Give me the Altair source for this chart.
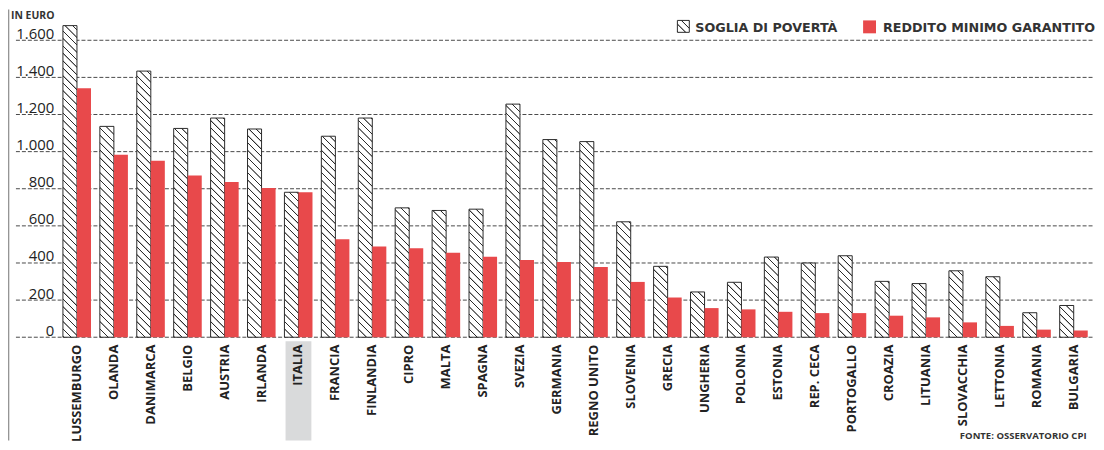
import altair as alt
import pandas as pd

# ---------------- data ----------------
countries = ["LUSSEMBURGO", "OLANDA", "DANIMARCA", "BELGIO", "AUSTRIA", "IRLANDA",
             "ITALIA", "FRANCIA", "FINLANDIA", "CIPRO", "MALTA", "SPAGNA", "SVEZIA",
             "GERMANIA", "REGNO UNITO", "SLOVENIA", "GRECIA", "UNGHERIA", "POLONIA",
             "ESTONIA", "REP. CECA", "PORTOGALLO", "CROAZIA", "LITUANIA", "SLOVACCHIA",
             "LETTONIA", "ROMANIA", "BULGARIA"]
soglia_poverta = [1679, 1136, 1434, 1125, 1181, 1122, 781, 1083, 1181, 697, 683, 690, 1256,
                  1065, 1054, 622, 382, 244, 296, 432, 400, 439, 301, 289, 358, 326, 132, 171]
reddito_minimo = [1341, 983, 951, 872, 836, 804, 781, 528, 489, 480, 455, 433, 416,
                  405, 378, 298, 214, 157, 150, 137, 130, 130, 116, 107, 80, 61, 41, 36]
series = ["SOGLIA DI POVERTÀ", "REDDITO MINIMO GARANTITO"]
y_ticks = [0, 200, 400, 600, 800, 1000, 1200, 1400, 1600]
highlight = ["ITALIA"]
unit_label = "IN EURO"
source_label = "FONTE: OSSERVATORIO CPI"

# ---------------- style / layout ----------------
RED = "#e8494b"
DARK = "#2b2b2b"
FONT = "Open Sans"
LEG_FONT = "DejaVu Sans"
W, H = 1042.5, 299
YMAX = 1600
PAD_IN, PAD_OUT = 0.24, 0.143
LEFT, TOP, RIGHT, BOTTOM = 50, 31, 3, 104

n = len(countries)
step = W / (n - PAD_IN + 2 * PAD_OUT)
bw = step * (1 - PAD_IN) / 2          # pixel width of one bar
ky = H / YMAX                          # pixels per euro
L = 340.0                              # gradient length in px (covers w+h of the tallest bar)
P = 7.5                                # hatch period in px


def hatch_stops(length):
    out = []
    k = 0
    while k * P + 1.8 <= length:
        a = k * P
        out += [(a, "#ffffff"), (a + 0.6, DARK), (a + 1.2, DARK), (a + 1.8, "#ffffff")]
        k += 1
    return [{"offset": round(o / length, 5), "color": c} for o, c in out]


stops = hatch_stops(L)
stops_js = ",".join("{offset:%s,color:'%s'}" % (s["offset"], s["color"]) for s in stops)

h_js = "(datum.valore*%r)" % ky
den_js = "(%r*%r+%s*%s)" % (bw, bw, h_js, h_js)
fill_expr = (
    "datum.serie === '%s' ? '%s' : {gradient:'linear', x1:0, y1:1, "
    "x2: %r*%r/%s, y2: 1 - %r*%s/%s, stops:[%s]}"
    % (series[1], RED, L, bw, den_js, L, h_js, den_js, stops_js)
)
stroke_expr = "datum.serie === '%s' ? null : '%s'" % (series[1], DARK)

rows = []
for c, a, b in zip(countries, soglia_poverta, reddito_minimo):
    rows.append({"paese": c, "serie": series[0], "valore": a})
    rows.append({"paese": c, "serie": series[1], "valore": b})
df = pd.DataFrame(rows)

x_scale = alt.Scale(paddingInner=PAD_IN, paddingOuter=PAD_OUT)
x_axis = alt.Axis(title=None, domain=False, ticks=False, labelAngle=270, labelAlign="right",
                  labelBaseline="middle", labelPadding=7, labelFont=FONT, labelFontSize=13,
                  labelFontWeight="bold", labelColor="#222222", labelOverlap=False, zindex=1,
                  grid=False)
y_scale = alt.Scale(domain=[0, YMAX], nice=False, zero=True)
y_axis = alt.Axis(title=None, domain=False, ticks=False, tickSize=0, grid=False, values=y_ticks,
                  labelExpr="replace(format(datum.value, ','), ',', '.')", labelPadding=4,
                  labelFont=FONT, labelFontSize=15, labelColor="#222222",
                  labelBaseline="alphabetic", labelOffset=-2, zindex=1)

one = pd.DataFrame({"k": [0]})

band = alt.Chart(pd.DataFrame({"paese": highlight})).mark_bar(color="#d9dadb", width=26).encode(
    x=alt.X("paese:N", sort=countries, scale=x_scale, axis=x_axis),
    y=alt.value(H + 4), y2=alt.value(H + BOTTOM),
)

grid = alt.Chart(pd.DataFrame({"valore": y_ticks})).mark_rule(
    color="#4a4a4a", strokeWidth=1, strokeDash=[4, 2]
).encode(
    y=alt.Y("valore:Q", scale=y_scale, axis=y_axis),
    x=alt.value(-42), x2=alt.value(W),
)

bars = alt.Chart(df).transform_calculate(
    fillv=fill_expr, strokev=stroke_expr
).mark_bar(strokeWidth=1).encode(
    x=alt.X("paese:N", sort=countries, scale=x_scale, axis=x_axis),
    xOffset=alt.XOffset("serie:N", sort=series, scale=alt.Scale(paddingInner=0, paddingOuter=0)),
    y=alt.Y("valore:Q", scale=y_scale, axis=y_axis),
    fill=alt.Fill("fillv:N", scale=None),
    stroke=alt.Stroke("strokev:N", scale=None),
)

frame = alt.Chart(one).mark_rule(color="#8a8a8a", strokeWidth=1.2).encode(
    x=alt.value(-LEFT + 0.7), y=alt.value(-TOP), y2=alt.value(H + BOTTOM))

title = alt.Chart(one).mark_text(text=unit_label, align="left", baseline="alphabetic", font=FONT,
                                 fontSize=10.5, fontWeight="bold", color="#333333").encode(
    x=alt.value(-47), y=alt.value(-21))

LS = 12
c_leg = L / (2 * LS * LS)
leg_grad = {"gradient": "linear", "x1": 0, "y1": 1, "x2": c_leg * LS, "y2": 1 - c_leg * LS,
            "stops": stops}
leg_hatch = alt.Chart(one).mark_rect(fill=leg_grad, stroke=DARK, strokeWidth=1).encode(
    x=alt.value(624), x2=alt.value(624 + LS), y=alt.value(-20), y2=alt.value(-20 + LS))
leg_text1 = alt.Chart(one).mark_text(text=series[0], align="left", baseline="alphabetic",
                                     font=LEG_FONT, fontSize=12.8, fontWeight="bold",
                                     color="#333333").encode(x=alt.value(642), y=alt.value(-8))
leg_red = alt.Chart(one).mark_rect(fill=RED).encode(
    x=alt.value(811), x2=alt.value(824), y=alt.value(-20), y2=alt.value(-7))
leg_text2 = alt.Chart(one).mark_text(text=series[1], align="left", baseline="alphabetic",
                                     font=LEG_FONT, fontSize=12.8, fontWeight="bold",
                                     color="#333333").encode(x=alt.value(831), y=alt.value(-8))

footer = alt.Chart(one).mark_text(text=source_label, align="right", baseline="alphabetic",
                                  font=FONT, fontSize=9.6, fontWeight="bold",
                                  color="#333333").encode(x=alt.value(1036), y=alt.value(H + 102))

chart = alt.layer(band, grid, bars, frame, title, leg_hatch, leg_text1, leg_red, leg_text2,
                  footer).properties(
    width=W, height=H,
    padding={"left": LEFT, "top": TOP, "right": RIGHT, "bottom": BOTTOM},
    autosize=alt.AutoSizeParams(type="none"),
    background="white",
).configure_view(stroke=None)

chart.save("out.html", embed_options={"renderer": "svg", "actions": False})
